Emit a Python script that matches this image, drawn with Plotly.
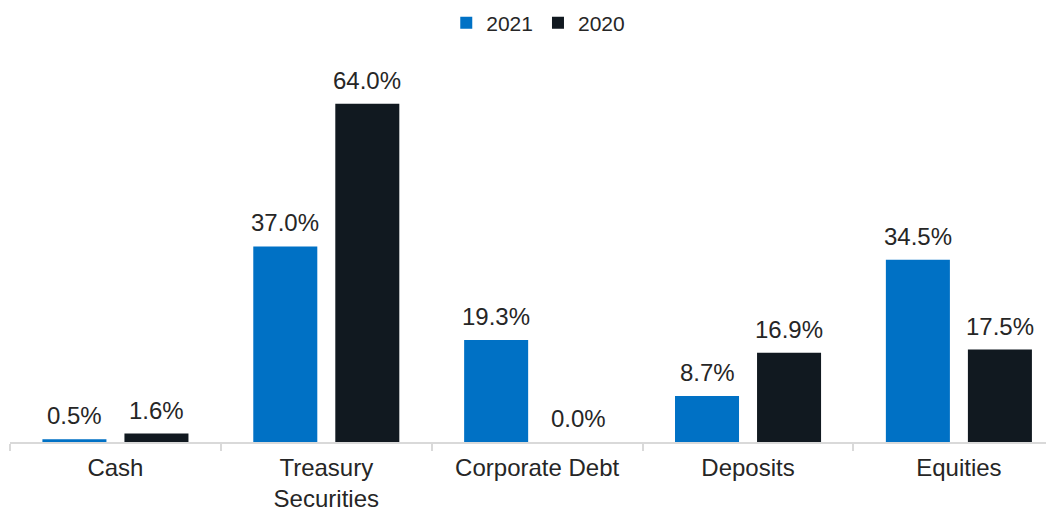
import plotly.graph_objects as go

categories = ["Cash", "Treasury<br>Securities", "Corporate Debt", "Deposits", "Equities"]
series_names = ["2021", "2020"]
values_2021 = [0.5, 37.0, 19.3, 8.7, 34.5]
values_2020 = [1.6, 64.0, 0.0, 16.9, 17.5]
colors = ["#0071C5", "#111920"]

fig = go.Figure()
for name, vals, col in zip(series_names, [values_2021, values_2020], colors):
    fig.add_trace(go.Bar(x=categories, y=vals, name=name, marker_color=col,
                         marker_line_width=0))

annotations = []
for vals, shift in [(values_2021, -41), (values_2020, 41)]:
    for c, v in zip(categories, vals):
        annotations.append(dict(x=c, y=v, xref="x", yref="y", text=f"{v:.1f}%",
                                showarrow=False, xshift=shift, yanchor="bottom",
                                yshift=8, font=dict(size=24, color="#262626")))

fig.update_layout(
    width=1046, height=504,
    margin=dict(l=2, r=0, t=64, b=70, autoexpand=False),
    paper_bgcolor="white", plot_bgcolor="white",
    barmode="group", bargap=0.222, bargroupgap=0.2195,
    font=dict(family="Liberation Sans, Arial, sans-serif", size=24, color="#262626"),
    legend=dict(orientation="h", x=0.506, xref="paper", xanchor="center", y=1.132, yref="paper",
                yanchor="middle", font=dict(size=21, color="#262626"), traceorder="normal"),
    annotations=annotations,
    showlegend=True,
)
fig.update_xaxes(range=[-0.5, 4.451], showline=True, linecolor="#d9d9d9", linewidth=2,
                 ticks="outside", tickson="boundaries", ticklen=7, tickcolor="#d9d9d9",
                 tickwidth=2, tickfont=dict(size=24, color="#262626"), showgrid=False,
                 ticklabelstandoff=3, automargin=False)
fig.update_yaxes(range=[0, 70], visible=False, showgrid=False, zeroline=False, automargin=False)

fig.write_html("out.html")
